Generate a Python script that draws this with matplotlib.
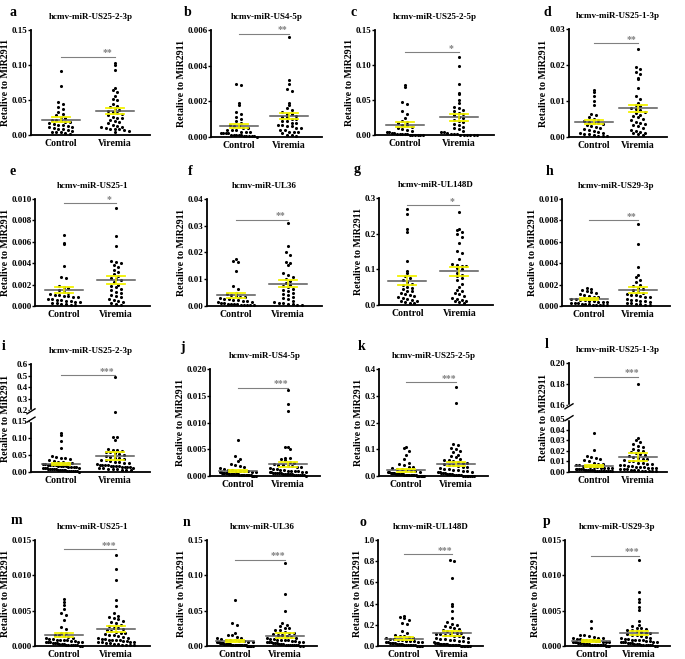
import matplotlib
matplotlib.use("Agg")
import matplotlib.pyplot as plt
import numpy as np
from matplotlib.ticker import FixedLocator, FixedFormatter

plt.rcParams["font.family"] = ["Liberation Serif", "DejaVu Serif"]
plt.rcParams["font.weight"] = "bold"

W_PX, H_PX = 685, 659

GROUPS = ["Control", "Viremia"]
LETTERS = list("abcdefghijklmnop")
TITLES = [
    "hcmv-miR-US25-2-3p", "hcmv-miR-US4-5p", "hcmv-miR-US25-2-5p", "hcmv-miR-US25-1-3p",
    "hcmv-miR-US25-1", "hcmv-miR-UL36", "hcmv-miR-UL148D", "hcmv-miR-US29-3p",
    "hcmv-miR-US25-2-3p", "hcmv-miR-US4-5p", "hcmv-miR-US25-2-5p", "hcmv-miR-US25-1-3p",
    "hcmv-miR-US25-1", "hcmv-miR-UL36", "hcmv-miR-UL148D", "hcmv-miR-US29-3p",
]
STARS = ["**", "**", "*", "**", "*", "**", "*", "**",
         "***", "***", "***", "***", "***", "***", "***", "***"]
SIG_Y = [0.112, 0.0058, 0.118, 0.026, 0.0096, 0.0323, 0.279, 0.008,
         0.505, 0.0165, 0.35, 0.187, 0.0137, 0.1224, 0.869, 0.0128]
Y_TICKLABELS = [
    ["0.00", "0.05", "0.10", "0.15"],
    ["0.000", "0.002", "0.004", "0.006"],
    ["0.00", "0.05", "0.10", "0.15"],
    ["0.00", "0.01", "0.02", "0.03"],
    ["0.000", "0.002", "0.004", "0.006", "0.008", "0.010"],
    ["0.00", "0.01", "0.02", "0.03", "0.04"],
    ["0.0", "0.1", "0.2", "0.3"],
    ["0.000", "0.002", "0.004", "0.006", "0.008", "0.010"],
    ["0.00", "0.05", "0.10", "0.15", "0.2", "0.3", "0.4", "0.5", "0.6"],
    ["0.000", "0.005", "0.010", "0.015", "0.020"],
    ["0.0", "0.1", "0.2", "0.3", "0.4"],
    ["0.00", "0.01", "0.02", "0.03", "0.04", "0.05", "0.16", "0.18", "0.20"],
    ["0.000", "0.005", "0.010", "0.015"],
    ["0.00", "0.05", "0.10", "0.15"],
    ["0.0", "0.2", "0.4", "0.6", "0.8", "1.0"],
    ["0.000", "0.005", "0.010", "0.015"],
]

# ---- values ----
a_control = [0.091, 0.070, 0.047, 0.044, 0.040, 0.037, 0.033, 0.030, 0.028, 0.026, 0.024,
             0.022, 0.021, 0.020, 0.019, 0.018, 0.017, 0.016, 0.015, 0.014, 0.013, 0.012,
             0.011, 0.010, 0.009, 0.008, 0.007, 0.006, 0.005, 0.005, 0.004, 0.003, 0.002]
a_viremia = [0.103, 0.100, 0.093, 0.067, 0.065, 0.062, 0.056, 0.051, 0.050, 0.045, 0.042,
             0.040, 0.038, 0.036, 0.035, 0.033, 0.032, 0.030, 0.028, 0.026, 0.025, 0.024,
             0.022, 0.020, 0.018, 0.017, 0.015, 0.013, 0.012, 0.011, 0.010, 0.009, 0.008,
             0.008, 0.007, 0.006, 0.005]
b_control = [0.0030, 0.0029, 0.0019, 0.0018, 0.0014, 0.0013, 0.0011, 0.0010, 0.0009, 0.0008,
             0.0007, 0.0006, 0.0006, 0.0005, 0.0005, 0.0004, 0.0004, 0.0004, 0.0003, 0.0003,
             0.0003, 0.0002, 0.0002, 0.0002, 0.0002, 0.0001, 0.0001, 0.0001, 0.0001, 0.0001,
             0.00005, 0.00005, 0.00005, 0.00003, 0.00003, 0.00002]
b_viremia = [0.0056, 0.0032, 0.0030, 0.0027, 0.0026, 0.0019, 0.0018, 0.0016, 0.0015, 0.0014,
             0.0013, 0.0013, 0.0012, 0.0011, 0.0011, 0.0010, 0.0010, 0.0009, 0.0009, 0.0008,
             0.0008, 0.0007, 0.0007, 0.0006, 0.0006, 0.0005, 0.0005, 0.0004, 0.0004, 0.0003,
             0.0003, 0.0003, 0.0002, 0.0001, 0.0001, 0.00005]
c_control = [0.072, 0.068, 0.047, 0.045, 0.034, 0.030, 0.025, 0.020, 0.019, 0.017, 0.015,
             0.014, 0.012, 0.010, 0.008, 0.007, 0.006, 0.005, 0.004, 0.003, 0.003, 0.002,
             0.002, 0.001, 0.001, 0.001, 0.0005, 0.0005, 0.0005, 0.0003, 0.0003, 0.0002]
c_viremia = [0.112, 0.099, 0.073, 0.060, 0.058, 0.050, 0.046, 0.040, 0.038, 0.036, 0.034,
             0.032, 0.030, 0.028, 0.026, 0.024, 0.022, 0.020, 0.018, 0.016, 0.014, 0.012,
             0.010, 0.008, 0.006, 0.005, 0.004, 0.003, 0.002, 0.001, 0.0008, 0.0006, 0.0005,
             0.0004, 0.0003, 0.0003, 0.0002]
d_control = [0.0130, 0.0125, 0.0115, 0.0100, 0.0090, 0.0065, 0.0060, 0.0055, 0.0050, 0.0047,
             0.0045, 0.0043, 0.0040, 0.0038, 0.0035, 0.0033, 0.0030, 0.0028, 0.0025, 0.0022,
             0.0020, 0.0018, 0.0015, 0.0012, 0.0010, 0.0008, 0.0007, 0.0005, 0.0004, 0.0003,
             0.0003]
d_viremia = [0.0245, 0.0195, 0.0190, 0.0180, 0.0175, 0.0165, 0.0160, 0.0135, 0.0115, 0.0105,
             0.0095, 0.0090, 0.0085, 0.0080, 0.0078, 0.0075, 0.0070, 0.0066, 0.0062, 0.0058,
             0.0055, 0.0050, 0.0046, 0.0042, 0.0038, 0.0035, 0.0032, 0.0030, 0.0025, 0.0020,
             0.0017, 0.0015, 0.0012, 0.0010, 0.0008, 0.0006]
e_control = [0.0066, 0.0059, 0.0058, 0.0037, 0.0027, 0.0026, 0.0019, 0.0018, 0.0017, 0.0015,
             0.0013, 0.0012, 0.0011, 0.0010, 0.0010, 0.0009, 0.0009, 0.0008, 0.0008, 0.0007,
             0.0007, 0.0006, 0.0006, 0.0005, 0.0005, 0.0004, 0.0004, 0.0003, 0.0003, 0.0002,
             0.0002, 0.0001, 0.0001]
e_viremia = [0.0092, 0.0065, 0.0056, 0.0042, 0.0041, 0.0040, 0.0038, 0.0036, 0.0034, 0.0032,
             0.0030, 0.0028, 0.0026, 0.0025, 0.0024, 0.0022, 0.0020, 0.0019, 0.0018, 0.0016,
             0.0015, 0.0013, 0.0012, 0.0010, 0.0009, 0.0008, 0.0007, 0.0006, 0.0005, 0.0004,
             0.0003, 0.0002, 0.0001]
f_control = [0.0175, 0.0170, 0.0165, 0.0130, 0.0075, 0.0065, 0.0050, 0.0045, 0.0040, 0.0038,
             0.0035, 0.0032, 0.0030, 0.0028, 0.0026, 0.0024, 0.0022, 0.0020, 0.0018, 0.0016,
             0.0014, 0.0012, 0.0010, 0.0009, 0.0008, 0.0007, 0.0006, 0.0005, 0.0004, 0.0003,
             0.0002, 0.0002]
f_viremia = [0.0310, 0.0225, 0.0200, 0.0190, 0.0165, 0.0160, 0.0155, 0.0125, 0.0115, 0.0110,
             0.0100, 0.0095, 0.0085, 0.0080, 0.0075, 0.0070, 0.0065, 0.0060, 0.0055, 0.0050,
             0.0045, 0.0040, 0.0035, 0.0030, 0.0025, 0.0020, 0.0015, 0.0012, 0.0010, 0.0008,
             0.0006, 0.0004, 0.0003]
g_control = [0.268, 0.255, 0.212, 0.205, 0.122, 0.095, 0.090, 0.080, 0.075, 0.070, 0.065,
             0.060, 0.055, 0.050, 0.048, 0.045, 0.040, 0.038, 0.035, 0.030, 0.028, 0.025,
             0.022, 0.020, 0.018, 0.015, 0.012, 0.010, 0.008, 0.006, 0.005]
g_viremia = [0.262, 0.213, 0.210, 0.205, 0.200, 0.190, 0.175, 0.150, 0.145, 0.128, 0.115,
             0.112, 0.110, 0.108, 0.105, 0.100, 0.090, 0.085, 0.080, 0.075, 0.070, 0.060,
             0.050, 0.042, 0.040, 0.035, 0.030, 0.025, 0.020, 0.018, 0.015, 0.012, 0.010,
             0.008, 0.005]
h_control = [0.0017, 0.0016, 0.0015, 0.0014, 0.0013, 0.0012, 0.0011, 0.0010, 0.0009, 0.0008,
             0.0008, 0.0007, 0.0007, 0.0006, 0.0006, 0.0005, 0.0005, 0.0004, 0.0004, 0.0004,
             0.0003, 0.0003, 0.0003, 0.0002, 0.0002, 0.0002, 0.0001, 0.0001, 0.0001, 0.00005,
             0.00005]
h_viremia = [0.0077, 0.0058, 0.0036, 0.0029, 0.0027, 0.0024, 0.0022, 0.0020, 0.0019, 0.0017,
             0.0016, 0.0015, 0.0013, 0.0012, 0.0011, 0.0010, 0.0010, 0.0009, 0.0008, 0.0008,
             0.0007, 0.0006, 0.0006, 0.0005, 0.0005, 0.0004, 0.0003, 0.0003, 0.0002, 0.0002,
             0.0001, 0.0001]
i_control = [0.115, 0.110, 0.092, 0.070, 0.047, 0.045, 0.042, 0.040, 0.038, 0.035, 0.033,
             0.030, 0.028, 0.026, 0.025, 0.024, 0.023, 0.022, 0.021, 0.020, 0.020, 0.019,
             0.018, 0.018, 0.017, 0.016, 0.015, 0.015, 0.014, 0.013, 0.012, 0.012, 0.011,
             0.010, 0.010, 0.009, 0.008, 0.008, 0.007, 0.006, 0.006, 0.005, 0.005, 0.004,
             0.004, 0.003, 0.003, 0.002, 0.002, 0.001]
i_viremia = [0.485, 0.190, 0.103, 0.102, 0.095, 0.068, 0.066, 0.064, 0.062, 0.060, 0.058,
             0.055, 0.052, 0.050, 0.048, 0.045, 0.042, 0.040, 0.038, 0.036, 0.034, 0.032,
             0.030, 0.028, 0.026, 0.025, 0.024, 0.022, 0.021, 0.020, 0.020, 0.019, 0.018,
             0.018, 0.017, 0.016, 0.015, 0.015, 0.014, 0.013, 0.012, 0.011, 0.010, 0.009,
             0.008, 0.007, 0.006, 0.005]
j_control = [0.0067, 0.0038, 0.0032, 0.0028, 0.0022, 0.0020, 0.0018, 0.0016, 0.0015, 0.0014,
             0.0012, 0.0011, 0.0010, 0.0010, 0.0009, 0.0009, 0.0008, 0.0008, 0.0007, 0.0007,
             0.0006, 0.0006, 0.0006, 0.0005, 0.0005, 0.0005, 0.0004, 0.0004, 0.0004, 0.0004,
             0.0003, 0.0003, 0.0003, 0.0003, 0.0002, 0.0002, 0.0002, 0.0002, 0.0002, 0.0001,
             0.0001, 0.0001, 0.0001, 0.0001, 0.00005, 0.00005, 0.00005, 0.00005]
j_viremia = [0.0161, 0.0134, 0.0122, 0.0055, 0.0054, 0.0050, 0.0034, 0.0033, 0.0031, 0.0029,
             0.0027, 0.0025, 0.0023, 0.0021, 0.0020, 0.0019, 0.0018, 0.0017, 0.0016, 0.0015,
             0.0014, 0.0013, 0.0012, 0.0011, 0.0010, 0.0010, 0.0009, 0.0009, 0.0008, 0.0008,
             0.0007, 0.0007, 0.0006, 0.0006, 0.0006, 0.0005, 0.0005, 0.0004, 0.0004, 0.0004,
             0.0003, 0.0003, 0.0003, 0.0002, 0.0002, 0.0002, 0.0001, 0.0001, 0.0001, 0.00005]
k_control = [0.110, 0.105, 0.095, 0.080, 0.062, 0.050, 0.045, 0.040, 0.035, 0.032, 0.030,
             0.028, 0.025, 0.022, 0.020, 0.018, 0.016, 0.015, 0.014, 0.013, 0.012, 0.011,
             0.010, 0.009, 0.008, 0.008, 0.007, 0.007, 0.006, 0.006, 0.005, 0.005, 0.004,
             0.004, 0.003, 0.003, 0.003, 0.002, 0.002, 0.002, 0.001, 0.001, 0.001, 0.001,
             0.0005, 0.0005, 0.0005]
k_viremia = [0.333, 0.272, 0.120, 0.115, 0.105, 0.100, 0.095, 0.090, 0.080, 0.075, 0.070,
             0.065, 0.060, 0.058, 0.055, 0.052, 0.050, 0.048, 0.045, 0.042, 0.040, 0.038,
             0.035, 0.032, 0.030, 0.028, 0.026, 0.024, 0.022, 0.020, 0.018, 0.016, 0.015,
             0.014, 0.012, 0.011, 0.010, 0.009, 0.008, 0.007, 0.006, 0.005, 0.004, 0.003,
             0.002, 0.002, 0.001, 0.001, 0.001, 0.0005, 0.0005, 0.0005, 0.0005]
l_control = [0.037, 0.021, 0.015, 0.014, 0.013, 0.012, 0.011, 0.010, 0.009, 0.008, 0.008,
             0.007, 0.007, 0.006, 0.006, 0.005, 0.005, 0.005, 0.004, 0.004, 0.004, 0.004,
             0.003, 0.003, 0.003, 0.003, 0.003, 0.002, 0.002, 0.002, 0.002, 0.002, 0.002,
             0.001, 0.001, 0.001, 0.001, 0.001, 0.001, 0.0005, 0.0005, 0.0005, 0.0005]
l_viremia = [0.180, 0.032, 0.030, 0.029, 0.027, 0.025, 0.024, 0.022, 0.021, 0.020, 0.019,
             0.018, 0.017, 0.016, 0.015, 0.014, 0.013, 0.012, 0.012, 0.011, 0.010, 0.010,
             0.009, 0.009, 0.008, 0.008, 0.007, 0.007, 0.006, 0.006, 0.005, 0.005, 0.005,
             0.004, 0.004, 0.004, 0.003, 0.003, 0.003, 0.002, 0.002, 0.002, 0.001, 0.001,
             0.001, 0.0005, 0.0005]
m_control = [0.0066, 0.0062, 0.0058, 0.0053, 0.0046, 0.0044, 0.0037, 0.0027, 0.0024, 0.0019,
             0.0018, 0.0016, 0.0015, 0.0014, 0.0013, 0.0012, 0.0011, 0.0010, 0.0010, 0.0009,
             0.0009, 0.0008, 0.0008, 0.0007, 0.0007, 0.0006, 0.0006, 0.0005, 0.0005, 0.0005,
             0.0004, 0.0004, 0.0004, 0.0003, 0.0003, 0.0003, 0.0002, 0.0002, 0.0002, 0.0001,
             0.0001, 0.0001, 0.00005, 0.00005]
m_viremia = [0.0129, 0.0109, 0.0093, 0.0065, 0.0056, 0.0046, 0.0043, 0.0041, 0.0040, 0.0038,
             0.0036, 0.0034, 0.0032, 0.0030, 0.0028, 0.0026, 0.0025, 0.0024, 0.0022, 0.0021,
             0.0020, 0.0019, 0.0018, 0.0017, 0.0016, 0.0015, 0.0014, 0.0013, 0.0012, 0.0011,
             0.0010, 0.0010, 0.0009, 0.0009, 0.0008, 0.0008, 0.0007, 0.0007, 0.0006, 0.0006,
             0.0005, 0.0005, 0.0004, 0.0004, 0.0003, 0.0003, 0.0002, 0.0002, 0.0001, 0.0001]
n_control = [0.065, 0.033, 0.030, 0.018, 0.016, 0.015, 0.013, 0.012, 0.011, 0.010, 0.009,
             0.008, 0.008, 0.007, 0.007, 0.006, 0.006, 0.005, 0.005, 0.005, 0.004, 0.004,
             0.004, 0.004, 0.003, 0.003, 0.003, 0.003, 0.003, 0.003, 0.002, 0.002, 0.002,
             0.002, 0.002, 0.002, 0.001, 0.001, 0.001, 0.001, 0.001, 0.001, 0.001, 0.001,
             0.0005, 0.0005, 0.0005, 0.0005, 0.0005, 0.0005]
n_viremia = [0.117, 0.074, 0.050, 0.032, 0.030, 0.028, 0.026, 0.025, 0.023, 0.022, 0.020,
             0.019, 0.018, 0.017, 0.016, 0.015, 0.014, 0.013, 0.012, 0.011, 0.010, 0.010,
             0.009, 0.009, 0.008, 0.008, 0.007, 0.007, 0.006, 0.006, 0.005, 0.005, 0.005,
             0.004, 0.004, 0.004, 0.003, 0.003, 0.003, 0.002, 0.002, 0.002, 0.001, 0.001,
             0.001, 0.001, 0.0005, 0.0005]
o_control = [0.280, 0.270, 0.265, 0.250, 0.215, 0.205, 0.140, 0.120, 0.100, 0.095, 0.090,
             0.085, 0.080, 0.075, 0.070, 0.065, 0.060, 0.055, 0.050, 0.048, 0.045, 0.042,
             0.040, 0.038, 0.035, 0.032, 0.030, 0.028, 0.025, 0.022, 0.020, 0.018, 0.015,
             0.012, 0.010, 0.010, 0.008, 0.007, 0.006, 0.005, 0.004, 0.003, 0.002, 0.002]
o_viremia = [0.810, 0.800, 0.640, 0.400, 0.380, 0.330, 0.260, 0.230, 0.210, 0.200, 0.190,
             0.180, 0.170, 0.160, 0.150, 0.140, 0.130, 0.125, 0.120, 0.115, 0.110, 0.105,
             0.100, 0.095, 0.090, 0.085, 0.080, 0.075, 0.070, 0.065, 0.060, 0.055, 0.050,
             0.045, 0.040, 0.035, 0.030, 0.028, 0.025, 0.022, 0.020, 0.020, 0.018, 0.015,
             0.015, 0.012, 0.010, 0.010, 0.008, 0.008, 0.006, 0.005, 0.005, 0.004, 0.004,
             0.003, 0.003, 0.002, 0.002, 0.001]
p_control = [0.0036, 0.0025, 0.0016, 0.0015, 0.0014, 0.0013, 0.0012, 0.0012, 0.0011, 0.0010,
             0.0010, 0.0009, 0.0009, 0.0008, 0.0008, 0.0007, 0.0007, 0.0006, 0.0006, 0.0006,
             0.0005, 0.0005, 0.0005, 0.0004, 0.0004, 0.0004, 0.0004, 0.0003, 0.0003, 0.0003,
             0.0003, 0.0002, 0.0002, 0.0002, 0.0002, 0.0002, 0.0001, 0.0001, 0.0001, 0.0001,
             0.0001, 0.00005, 0.00005, 0.00005]
p_viremia = [0.0122, 0.0077, 0.0067, 0.0062, 0.0055, 0.0051, 0.0036, 0.0030, 0.0028, 0.0026,
             0.0025, 0.0024, 0.0023, 0.0022, 0.0021, 0.0020, 0.0019, 0.0018, 0.0017, 0.0016,
             0.0015, 0.0014, 0.0013, 0.0012, 0.0011, 0.0010, 0.0010, 0.0009, 0.0009, 0.0008,
             0.0008, 0.0007, 0.0007, 0.0006, 0.0006, 0.0005, 0.0005, 0.0005, 0.0004, 0.0004,
             0.0004, 0.0003, 0.0003, 0.0003, 0.0002, 0.0002, 0.0002, 0.0001, 0.0001, 0.0001,
             0.00005, 0.00005]

CONTROL = [a_control, b_control, c_control, d_control, e_control, f_control, g_control,
           h_control, i_control, j_control, k_control, l_control, m_control, n_control,
           o_control, p_control]
VIREMIA = [a_viremia, b_viremia, c_viremia, d_viremia, e_viremia, f_viremia, g_viremia,
           h_viremia, i_viremia, j_viremia, k_viremia, l_viremia, m_viremia, n_viremia,
           o_viremia, p_viremia]

# layout in pixels: (left, right, top, bottom) of each plot area
AXES_PX = [
    (31, 150, 30, 135), (211, 322, 30, 137), (375, 494, 30, 135), (569, 667, 29, 137),
    (35, 150, 199, 306), (207, 322, 199, 306), (379, 493, 198, 305), (562, 670, 199, 306),
    (31, 150, 364, 472), (210, 320, 369, 476), (379, 488, 369, 476), (569, 667, 363, 472),
    (35, 150, 540, 646), (207, 317, 540, 646), (378, 483, 540, 646), (565, 670, 540, 646),
]
LETTER_PX = [
    (9, 13), (184, 13), (350, 13), (543, 13),
    (9, 172), (188, 172), (354, 170), (546, 172),
    (2, 347), (180, 347), (358, 347), (545, 345),
    (11, 520), (183, 522), (359, 522), (543, 522),
]
# broken axes: lower top, upper bottom, gap (in lower units), upper compression
BREAKS = {8: (0.15, 0.2, 0.032, 0.338), 11: (0.05, 0.16, 0.0138, 1.0)}

XLIM = (-0.55, 1.65)
GREY = "#808080"
YELLOW = "#f2f200"


def make_scale(brk):
    if brk is None:
        return (lambda y: np.asarray(y, float)), (lambda u: np.asarray(u, float))
    lo, hi, gap, k = brk

    def fwd(y):
        y = np.asarray(y, float)
        return np.where(y <= lo, y, np.where(y >= hi, lo + gap + (y - hi) * k,
                                             lo + (y - lo) / (hi - lo) * gap))

    def inv(u):
        u = np.asarray(u, float)
        return np.where(u <= lo, u, np.where(u >= lo + gap, hi + (u - lo - gap) / k,
                                             lo + (u - lo) / gap * (hi - lo)))
    return fwd, inv


def swarm(values, fwd, ytop, h_px, w_px):
    # prism-like column scatter: points in the same row are spread sideways
    values = np.asarray(values, float)
    pix = fwd(values) / fwd(ytop) * h_px
    rows = np.floor(pix / 4.2).astype(int)
    offs = np.zeros(len(values))
    for r in np.unique(rows):
        idx = np.where(rows == r)[0]
        n = len(idx)
        step = min(4.6, 36.0 / max(n - 1, 1))
        offs[idx] = (np.arange(n) - (n - 1) / 2) * step
    return offs * (XLIM[1] - XLIM[0]) / w_px


fig = plt.figure(figsize=(W_PX / 100, H_PX / 100), dpi=100)

for p in range(16):
    left, right, top, bottom = AXES_PX[p]
    w_px, h_px = right - left, bottom - top
    ax = fig.add_axes([left / W_PX, 1 - bottom / H_PX, w_px / W_PX, h_px / H_PX])
    labels = Y_TICKLABELS[p]
    ticks = [float(t) for t in labels]
    ytop = ticks[-1]
    fwd, inv = make_scale(BREAKS.get(p))
    if p in BREAKS:
        ax.set_yscale("function", functions=(fwd, inv))
    ax.set_ylim(0, ytop)
    ax.set_xlim(*XLIM)

    half_mean = 19 * (XLIM[1] - XLIM[0]) / w_px
    half_cap = 9 * (XLIM[1] - XLIM[0]) / w_px
    for gi, vals in enumerate([CONTROL[p], VIREMIA[p]]):
        vals = np.asarray(vals, float)
        xs = gi + swarm(vals, fwd, ytop, h_px, w_px)
        ax.scatter(xs, vals, s=5, color="black", linewidths=0, zorder=3, clip_on=False)
        mean = vals.mean()
        sem = vals.std(ddof=1) / np.sqrt(len(vals))
        ax.plot([gi - half_mean, gi + half_mean], [mean, mean], color="#5a5a5a",
                lw=1.1, zorder=4)
        ax.plot([gi, gi], [mean - sem, mean + sem], color=YELLOW, lw=1.1, zorder=5)
        for yy in (mean - sem, mean + sem):
            ax.plot([gi - half_cap, gi + half_cap], [yy, yy], color=YELLOW, lw=1.3, zorder=5)

    ax.plot([0, 1], [SIG_Y[p], SIG_Y[p]], color=GREY, lw=0.8, zorder=2)
    ax.annotate(STARS[p], (0.86, SIG_Y[p]), xytext=(0, -0.5), textcoords="offset points",
                ha="center", va="bottom", fontsize=7, color=GREY)

    ax.yaxis.set_major_locator(FixedLocator(ticks))
    ax.yaxis.set_major_formatter(FixedFormatter(labels))
    ax.yaxis.set_minor_locator(FixedLocator([]))
    ax.set_xticks([0, 1])
    ax.set_xticklabels(GROUPS, fontsize=7, fontweight="bold")
    ax.tick_params(axis="y", direction="out", length=2, width=1, labelsize=6.5, pad=0.5)
    ax.tick_params(axis="x", length=0, pad=3)
    for side in ("top", "right"):
        ax.spines[side].set_visible(False)
    for side in ("left", "bottom"):
        ax.spines[side].set_linewidth(1.3)
    ax.set_ylabel("Retalive to MiR2911", fontsize=7.2, fontweight="bold", labelpad=1)
    ax.set_title(TITLES[p], fontsize=6.5, fontweight="bold", pad=8)

    if p in BREAKS:
        lo, hi = BREAKS[p][0], BREAKS[p][1]
        f_lo = float(fwd(lo) / fwd(ytop))
        f_hi = float(fwd(hi) / fwd(ytop))
        ax.plot([0, 0], [f_lo + 0.01, f_hi - 0.01], transform=ax.transAxes, color="white",
                lw=2.5, clip_on=False, zorder=6)
        dx = 4 / w_px
        dy = 2.5 / h_px
        for fy in (f_lo + 0.012, f_hi - 0.012):
            ax.plot([-dx, dx], [fy - dy, fy + dy], transform=ax.transAxes, color="black",
                    lw=1, clip_on=False, zorder=7)

    lx, ly = LETTER_PX[p]
    fig.text(lx / W_PX, 1 - ly / H_PX, LETTERS[p], fontsize=10, fontweight="bold",
             ha="left", va="center")

fig.savefig("out.png", dpi=100)
